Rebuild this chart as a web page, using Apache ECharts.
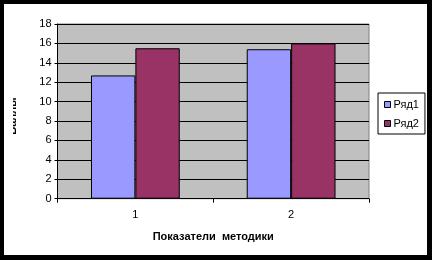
<!DOCTYPE html>
<html><head><meta charset="utf-8">
<script src="https://cdn.jsdelivr.net/npm/echarts@6/dist/echarts.min.js"></script>
<style>html,body{margin:0;padding:0;background:#000}#c{width:432px;height:260px}</style>
</head><body><div id="c"></div>
<script>
const categories = ['1', '2'];
const series1 = [12.7, 15.4];
const series2 = [15.5, 16.0];
const seriesNames = ['Ряд1', 'Ряд2'];
const yTitle = 'Баллы';
const xTitle = 'Показатели  методики';

const chart = echarts.init(document.getElementById('c'));
const font = 'Arial, "Liberation Sans", sans-serif';
chart.setOption({
  animation: false,
  backgroundColor: '#000',
  textStyle: {fontFamily: font},
  grid: {left: 57.5, right: 63, top: 24, bottom: 61.3, show: true, backgroundColor: '#C0C0C0', borderColor: '#808080', borderWidth: 1},
  legend: {
    orient: 'vertical', left: 378, top: 93, itemWidth: 6, itemHeight: 6, itemGap: 8,
    padding: [6, 6, 5, 6], borderColor: '#000', borderWidth: 1, backgroundColor: '#fff',
    icon: 'rect', itemStyle: {borderColor: '#000', borderWidth: 1},
    textStyle: {fontSize: 11, color: '#000', fontFamily: font, padding: [0, 0, 0, -2]},
    data: seriesNames
  },
  xAxis: {
    type: 'category', data: categories,
    axisLine: {lineStyle: {color: '#000', width: 1}},
    axisTick: {show: true, alignWithLabel: false, length: 4, lineStyle: {color: '#000'}},
    axisLabel: {color: '#000', fontSize: 11, margin: 11, fontFamily: font},
    name: xTitle, nameLocation: 'middle', nameGap: 33,
    nameTextStyle: {fontWeight: 'bold', fontSize: 11, color: '#000', fontFamily: font}
  },
  yAxis: {
    type: 'value', min: 0, max: 18, interval: 2,
    axisLine: {show: true, lineStyle: {color: '#000', width: 1}},
    axisTick: {show: true, length: 3, lineStyle: {color: '#000'}},
    axisLabel: {color: '#000', fontSize: 11, margin: 6, fontFamily: font},
    splitLine: {show: true, lineStyle: {color: '#000', width: 1}}
  },
  series: [
    {name: seriesNames[0], type: 'bar', data: series1, barGap: '0%', barCategoryGap: '43%',
     itemStyle: {color: '#9999FF', borderColor: '#000', borderWidth: 1}},
    {name: seriesNames[1], type: 'bar', data: series2,
     itemStyle: {color: '#993366', borderColor: '#000', borderWidth: 1}}
  ],
  graphic: [
    {type: 'rect', z: -10, shape: {x: 4, y: 4, width: 423, height: 251}, style: {fill: '#fff'}, silent: true},
    {type: 'text', z: 5, x: 13, y: 116, rotation: Math.PI / 2, style: {text: yTitle, font: 'bold 11px ' + font, fill: '#000', align: 'center', verticalAlign: 'middle'}},
    {type: 'rect', z: 6, shape: {x: 4, y: 95, width: 9, height: 45}, style: {fill: '#fff'}, silent: true}
  ]
});
</script></body></html>
